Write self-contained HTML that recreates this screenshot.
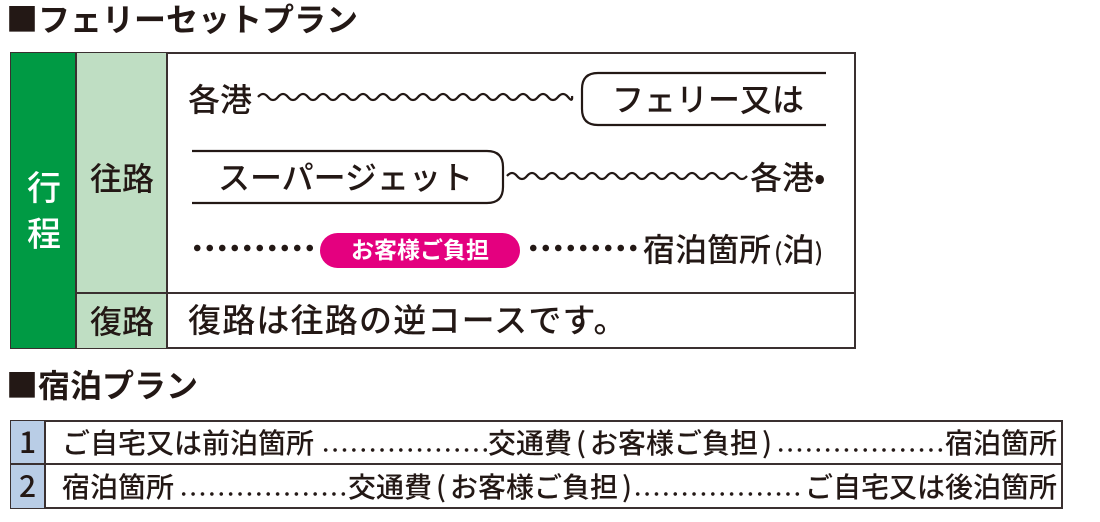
<!DOCTYPE html>
<html><head><meta charset="utf-8"><style>
*{margin:0;padding:0;box-sizing:border-box}
body{width:1100px;height:522px;background:#fff;position:relative;overflow:hidden;font-family:"Noto Sans CJK JP","Liberation Sans",sans-serif;color:#231815}
.a{position:absolute;white-space:nowrap;line-height:1;font-weight:500}
.t{font-weight:bold;font-size:32px}
.m{font-size:32px}
.s{font-size:28px}
.p{margin:0 4px}
.dots{position:absolute;height:6px;background:radial-gradient(circle,#231815 1.6px,transparent 2px) 0 0/9.4px 6px repeat-x}
.bd{position:absolute;height:8px;background:radial-gradient(circle,#231815 3px,transparent 3.5px) 0 0/12.5px 8px repeat-x}
</style></head><body>
<div class="a t" style="left:6px;top:2px">■フェリーセットプラン</div>
<div style="position:absolute;left:10px;top:52px;width:846px;height:297px;border:2px solid #3a3030"></div>
<div style="position:absolute;left:11px;top:53px;width:66px;height:295px;background:#009a44;border-right:2px solid #3a3030"></div>
<div style="position:absolute;left:77px;top:53px;width:91px;height:295px;background:#bfdec3;border-right:2px solid #3a3030"></div>
<div style="position:absolute;left:77px;top:292px;width:778px;height:2px;background:#3a3030"></div>
<div class="a" style="left:24px;top:163px;color:#fff;font-size:34px;line-height:46px;width:40px;text-align:center">行<br>程</div>
<div class="a m" style="left:90px;top:161px">往路</div>
<div class="a m" style="left:90px;top:304px">復路</div>
<div class="a m" style="left:188px;top:302px;font-size:33px;letter-spacing:1.2px">復路は往路の逆コースです。</div>

<svg style="position:absolute;left:0;top:0" width="1100" height="522">
<g fill="none" stroke="#231815" stroke-width="2.2">
<path d="M258 97 q5 -6 10 0 t10 0 t10 0 t10 0 t10 0 t10 0 t10 0 t10 0 t10 0 t10 0 t10 0 t10 0 t10 0 t10 0 t10 0 t10 0 t10 0 t10 0 t10 0 t10 0 t10 0 t10 0 t10 0 t10 0 t10 0 t10 0 t10 0 t10 0 t10 0 t10 0 t10 0 t4 -1"/>
<path d="M826 73 H598 Q582 73 582 89 V109 Q582 125 598 125 H826"/>
<path d="M192 151 H487 Q503 151 503 167 V187 Q503 203 487 203 H192"/>
<path d="M507 176 q5 -6 10 0 t10 0 t10 0 t10 0 t10 0 t10 0 t10 0 t10 0 t10 0 t10 0 t10 0 t10 0 t10 0 t10 0 t10 0 t10 0 t10 0 t10 0 t10 0 t10 0 t10 0 t10 0 t10 0 t10 0"/>
</g>
</svg>
<div class="a m" style="left:188px;top:82px">各港</div>
<div class="a m" style="left:612px;top:82px">フェリー又は</div>
<div class="a m" style="left:218px;top:160px">スーパージェット</div>
<div class="a m" style="left:750px;top:160px">各港•</div>

<div class="bd" style="left:191px;top:244px;width:125px"></div>
<div style="position:absolute;left:320px;top:233px;width:200px;height:35px;border-radius:18px;background:#e4007f"></div>
<div class="a" style="left:320px;top:237px;width:200px;text-align:center;color:#fff;font-size:23px;font-weight:bold">お客様ご負担</div>
<div class="bd" style="left:527px;top:244px;width:115px"></div>
<div class="a m" style="left:643px;top:232px">宿泊箇所<span style="font-size:24px;margin-left:3px">(</span>泊<span style="font-size:24px">)</span></div>

<div class="a t" style="left:6px;top:368px">■宿泊プラン</div>
<div style="position:absolute;left:10px;top:420px;width:1053px;height:89px;border:2px solid #3a3030"></div>
<div style="position:absolute;left:11px;top:421px;width:35px;height:87px;background:#b9cde6;border-right:2px solid #3a3030"></div>
<div style="position:absolute;left:11px;top:463px;width:1051px;height:2px;background:#3a3030"></div>
<div class="a" style="left:19px;top:425px;font-size:30px">1</div>
<div class="a" style="left:19px;top:469px;font-size:30px">2</div>

<div class="a s" style="left:62px;top:428px">ご自宅又は前泊箇所</div>
<div class="dots" style="left:321px;top:447px;width:166px"></div>
<div class="a s" style="left:488px;top:428px">交通費<span class="p">(</span>お客様ご負担<span class="p">)</span></div>
<div class="dots" style="left:776px;top:447px;width:168px"></div>
<div class="a s" style="left:945px;top:428px">宿泊箇所</div>

<div class="a s" style="left:62px;top:472px">宿泊箇所</div>
<div class="dots" style="left:179px;top:491px;width:168px"></div>
<div class="a s" style="left:348px;top:472px">交通費<span class="p">(</span>お客様ご負担<span class="p">)</span></div>
<div class="dots" style="left:633px;top:491px;width:170px"></div>
<div class="a s" style="left:805px;top:472px">ご自宅又は後泊箇所</div>
</body></html>
